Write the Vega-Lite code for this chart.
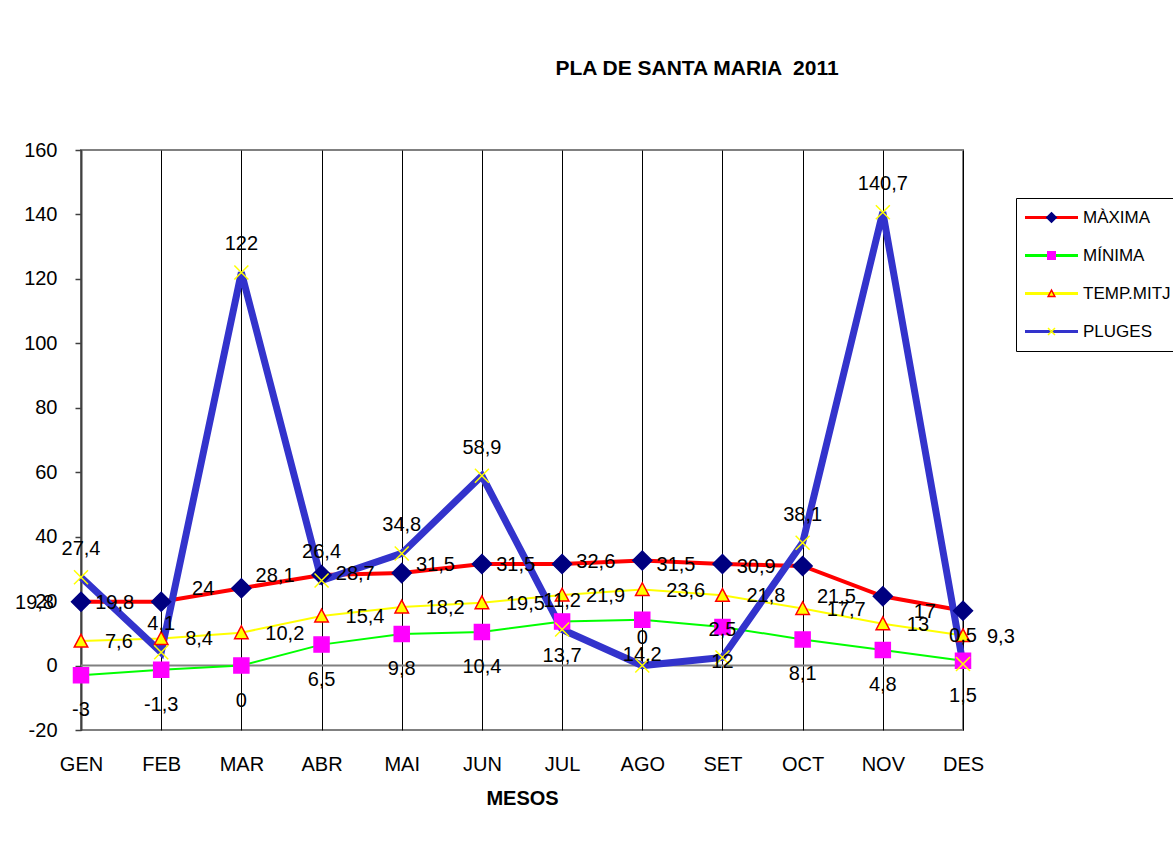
{
  "$schema": "https://vega.github.io/schema/vega-lite/v6.json",
  "width": 882,
  "height": 580,
  "autosize": {"type": "none"},
  "padding": {"left": 81, "top": 150, "right": 210, "bottom": 117},
  "background": "white",
  "title": {"text": "PLA DE SANTA MARIA \u00a02011", "fontSize": 21, "fontWeight": "bold", "font": "Liberation Sans", "color": "#000000", "anchor": "middle", "dx": 175, "offset": 61, "frame": "group"},
  "data": {"values": [
    {"mes": "GEN", "serie": "MÀXIMA", "valor": 19.8},
    {"mes": "FEB", "serie": "MÀXIMA", "valor": 19.8},
    {"mes": "MAR", "serie": "MÀXIMA", "valor": 24},
    {"mes": "ABR", "serie": "MÀXIMA", "valor": 28.1},
    {"mes": "MAI", "serie": "MÀXIMA", "valor": 28.7},
    {"mes": "JUN", "serie": "MÀXIMA", "valor": 31.5},
    {"mes": "JUL", "serie": "MÀXIMA", "valor": 31.5},
    {"mes": "AGO", "serie": "MÀXIMA", "valor": 32.6},
    {"mes": "SET", "serie": "MÀXIMA", "valor": 31.5},
    {"mes": "OCT", "serie": "MÀXIMA", "valor": 30.9},
    {"mes": "NOV", "serie": "MÀXIMA", "valor": 21.5},
    {"mes": "DES", "serie": "MÀXIMA", "valor": 17},
    {"mes": "GEN", "serie": "MÍNIMA", "valor": -3},
    {"mes": "FEB", "serie": "MÍNIMA", "valor": -1.3},
    {"mes": "MAR", "serie": "MÍNIMA", "valor": 0},
    {"mes": "ABR", "serie": "MÍNIMA", "valor": 6.5},
    {"mes": "MAI", "serie": "MÍNIMA", "valor": 9.8},
    {"mes": "JUN", "serie": "MÍNIMA", "valor": 10.4},
    {"mes": "JUL", "serie": "MÍNIMA", "valor": 13.7},
    {"mes": "AGO", "serie": "MÍNIMA", "valor": 14.2},
    {"mes": "SET", "serie": "MÍNIMA", "valor": 12},
    {"mes": "OCT", "serie": "MÍNIMA", "valor": 8.1},
    {"mes": "NOV", "serie": "MÍNIMA", "valor": 4.8},
    {"mes": "DES", "serie": "MÍNIMA", "valor": 1.5},
    {"mes": "GEN", "serie": "TEMP.MITJ", "valor": 7.6},
    {"mes": "FEB", "serie": "TEMP.MITJ", "valor": 8.4},
    {"mes": "MAR", "serie": "TEMP.MITJ", "valor": 10.2},
    {"mes": "ABR", "serie": "TEMP.MITJ", "valor": 15.4},
    {"mes": "MAI", "serie": "TEMP.MITJ", "valor": 18.2},
    {"mes": "JUN", "serie": "TEMP.MITJ", "valor": 19.5},
    {"mes": "JUL", "serie": "TEMP.MITJ", "valor": 21.9},
    {"mes": "AGO", "serie": "TEMP.MITJ", "valor": 23.6},
    {"mes": "SET", "serie": "TEMP.MITJ", "valor": 21.8},
    {"mes": "OCT", "serie": "TEMP.MITJ", "valor": 17.7},
    {"mes": "NOV", "serie": "TEMP.MITJ", "valor": 13},
    {"mes": "DES", "serie": "TEMP.MITJ", "valor": 9.3},
    {"mes": "GEN", "serie": "PLUGES", "valor": 27.4},
    {"mes": "FEB", "serie": "PLUGES", "valor": 4.1},
    {"mes": "MAR", "serie": "PLUGES", "valor": 122},
    {"mes": "ABR", "serie": "PLUGES", "valor": 26.4},
    {"mes": "MAI", "serie": "PLUGES", "valor": 34.8},
    {"mes": "JUN", "serie": "PLUGES", "valor": 58.9},
    {"mes": "JUL", "serie": "PLUGES", "valor": 11.2},
    {"mes": "AGO", "serie": "PLUGES", "valor": 0},
    {"mes": "SET", "serie": "PLUGES", "valor": 2.5},
    {"mes": "OCT", "serie": "PLUGES", "valor": 38.1},
    {"mes": "NOV", "serie": "PLUGES", "valor": 140.7},
    {"mes": "DES", "serie": "PLUGES", "valor": 0.5}
  ]},
  "layer": [
    {
      "data": {"values": [{}]},
      "mark": {"type": "rule", "color": "#808080", "strokeWidth": 2},
      "encoding": {
        "y": {"datum": 0, "type": "quantitative", "scale": {"domain": [-20, 160], "nice": false, "zero": false}, "axis": {"values": [-20, 0, 20, 40, 60, 80, 100, 120, 140, 160]}, "title": null}
      }
    },
    {
      "encoding": {
        "x": {"field": "mes", "type": "ordinal", "sort": ["GEN","FEB","MAR","ABR","MAI","JUN","JUL","AGO","SET","OCT","NOV","DES"], "scale": {"type": "point", "padding": 0}, "title": "MESOS"},
        "y": {"field": "valor", "type": "quantitative", "scale": {"domain": [-20, 160], "nice": false, "zero": false}, "axis": {"values": [-20, 0, 20, 40, 60, 80, 100, 120, 140, 160]}, "title": null},
        "stroke": {"field": "serie", "type": "nominal",
          "scale": {"domain": ["MÀXIMA", "MÍNIMA", "TEMP.MITJ", "PLUGES"], "range": ["#FF0000", "#00FF00", "#FFFF00", "#3333CC"]},
          "legend": {"orient": "none", "legendX": 935, "legendY": 48, "title": null, "symbolType": "M-5,0H5", "symbolSize": 112.36, "symbolStrokeWidth": 3, "symbolOffset": 16, "labelOffset": 23, "labelFontSize": 17, "labelColor": "#000000", "labelFont": "Liberation Sans", "padding": 11, "rowPadding": 20, "strokeColor": "#000000"}}
      },
      "layer": [
        {"transform": [{"filter": {"field": "serie", "equal": "MÀXIMA"}}], "mark": {"type": "line", "strokeWidth": 4}, "encoding": {}},
        {"transform": [{"filter": {"field": "serie", "equal": "MÍNIMA"}}], "mark": {"type": "line", "strokeWidth": 2}, "encoding": {}},
        {"transform": [{"filter": {"field": "serie", "equal": "TEMP.MITJ"}}], "mark": {"type": "line", "strokeWidth": 2}, "encoding": {}},
        {"transform": [{"filter": {"field": "serie", "equal": "PLUGES"}}], "mark": {"type": "line", "strokeWidth": 7}, "encoding": {}}
      ]
    },
    {
      "mark": {"type": "point", "size": 100, "opacity": 1, "strokeWidth": 1.5},
      "encoding": {
        "x": {"field": "mes", "type": "ordinal", "sort": ["GEN","FEB","MAR","ABR","MAI","JUN","JUL","AGO","SET","OCT","NOV","DES"], "scale": {"type": "point", "padding": 0}, "title": "MESOS"},
        "y": {"field": "valor", "type": "quantitative", "scale": {"domain": [-20, 160], "nice": false, "zero": false}, "axis": {"values": [-20, 0, 20, 40, 60, 80, 100, 120, 140, 160]}, "title": null},
        "shape": {"field": "serie", "type": "nominal",
          "scale": {"domain": ["MÀXIMA", "MÍNIMA", "TEMP.MITJ", "PLUGES"], "range": ["M0,-1.9L1.9,0L0,1.9L-1.9,0Z", "M-1.5,-1.5H1.5V1.5H-1.5Z", "M0,-1.35L1.35,1.2L-1.35,1.2Z", "M-1.4,-1.4L1.4,1.4M-1.4,1.4L1.4,-1.4"]},
          "legend": {"orient": "none", "legendX": 935, "legendY": 48, "title": null, "symbolSize": 25, "symbolStrokeWidth": 1.5, "symbolOffset": 16, "labelOffset": 23, "labelFontSize": 17, "labelOpacity": 0, "padding": 11, "rowPadding": 20}},
        "fill": {"field": "serie", "type": "nominal",
          "scale": {"domain": ["MÀXIMA", "MÍNIMA", "TEMP.MITJ", "PLUGES"], "range": ["#000080", "#FF00FF", "#FFFF00", "transparent"]},
          "legend": {"orient": "none", "legendX": 935, "legendY": 48, "title": null, "symbolSize": 25, "symbolStrokeWidth": 1.5, "symbolOffset": 16, "labelOffset": 23, "labelFontSize": 17, "labelOpacity": 0, "padding": 11, "rowPadding": 20}},
        "stroke": {"field": "serie", "type": "nominal",
          "scale": {"domain": ["MÀXIMA", "MÍNIMA", "TEMP.MITJ", "PLUGES"], "range": ["#000080", "#FF00FF", "#FF0000", "#FFFF00"]},
          "legend": {"orient": "none", "legendX": 935, "legendY": 48, "title": null, "symbolSize": 25, "symbolStrokeWidth": 1.5, "symbolOffset": 16, "labelOffset": 23, "labelFontSize": 17, "labelOpacity": 0, "padding": 11, "rowPadding": 20}}
      }
    },
    {
      "transform": [{"filter": {"field": "serie", "equal": "MÀXIMA"}}],
      "mark": {"type": "text", "align": "right", "baseline": "middle", "dx": -27, "dy": 1, "fontSize": 20, "color": "#000000"},
      "encoding": {
        "x": {"field": "mes", "type": "ordinal", "sort": ["GEN","FEB","MAR","ABR","MAI","JUN","JUL","AGO","SET","OCT","NOV","DES"], "scale": {"type": "point", "padding": 0}, "title": "MESOS"},
        "y": {"field": "valor", "type": "quantitative", "scale": {"domain": [-20, 160], "nice": false, "zero": false}, "axis": {"values": [-20, 0, 20, 40, 60, 80, 100, 120, 140, 160]}, "title": null},
        "text": {"field": "valor", "type": "quantitative", "format": "~g"}
      }
    },
    {
      "transform": [{"filter": {"field": "serie", "equal": "MÍNIMA"}}],
      "mark": {"type": "text", "align": "center", "baseline": "middle", "dy": 35, "fontSize": 20, "color": "#000000"},
      "encoding": {
        "x": {"field": "mes", "type": "ordinal", "sort": ["GEN","FEB","MAR","ABR","MAI","JUN","JUL","AGO","SET","OCT","NOV","DES"], "scale": {"type": "point", "padding": 0}, "title": "MESOS"},
        "y": {"field": "valor", "type": "quantitative", "scale": {"domain": [-20, 160], "nice": false, "zero": false}, "axis": {"values": [-20, 0, 20, 40, 60, 80, 100, 120, 140, 160]}, "title": null},
        "text": {"field": "valor", "type": "quantitative", "format": "~g"}
      }
    },
    {
      "transform": [{"filter": {"field": "serie", "equal": "TEMP.MITJ"}}],
      "mark": {"type": "text", "align": "left", "baseline": "middle", "dx": 24, "dy": 1, "fontSize": 20, "color": "#000000"},
      "encoding": {
        "x": {"field": "mes", "type": "ordinal", "sort": ["GEN","FEB","MAR","ABR","MAI","JUN","JUL","AGO","SET","OCT","NOV","DES"], "scale": {"type": "point", "padding": 0}, "title": "MESOS"},
        "y": {"field": "valor", "type": "quantitative", "scale": {"domain": [-20, 160], "nice": false, "zero": false}, "axis": {"values": [-20, 0, 20, 40, 60, 80, 100, 120, 140, 160]}, "title": null},
        "text": {"field": "valor", "type": "quantitative", "format": "~g"}
      }
    },
    {
      "transform": [{"filter": {"field": "serie", "equal": "PLUGES"}}],
      "mark": {"type": "text", "align": "center", "baseline": "middle", "dy": -28, "fontSize": 20, "color": "#000000"},
      "encoding": {
        "x": {"field": "mes", "type": "ordinal", "sort": ["GEN","FEB","MAR","ABR","MAI","JUN","JUL","AGO","SET","OCT","NOV","DES"], "scale": {"type": "point", "padding": 0}, "title": "MESOS"},
        "y": {"field": "valor", "type": "quantitative", "scale": {"domain": [-20, 160], "nice": false, "zero": false}, "axis": {"values": [-20, 0, 20, 40, 60, 80, 100, 120, 140, 160]}, "title": null},
        "text": {"field": "valor", "type": "quantitative", "format": "~g"}
      }
    }
  ],
  "resolve": {
    "scale": {"stroke": "independent", "fill": "independent", "shape": "independent"},
    "legend": {"stroke": "independent", "fill": "independent", "shape": "independent"}
  },
  "config": {
    "font": "Liberation Sans",
    "view": {"stroke": "#808080", "strokeWidth": 2},
    "locale": {"number": {"decimal": ",", "thousands": ".", "grouping": [3], "currency": ["", " €"], "minus": "-"}},
    "axisX": {"grid": true, "gridColor": "#000000", "gridWidth": 1, "gridOpacity": 1, "domain": false, "ticks": false, "tickSize": 0, "labelFontSize": 20, "labelColor": "#000000", "labelPadding": 24, "labelAngle": 0, "titleFontSize": 20, "titleFontWeight": "bold", "titleColor": "#000000", "titlePadding": 14},
    "axisY": {"grid": false, "domainColor": "#404040", "domainWidth": 2, "tickColor": "#404040", "tickWidth": 1.5, "tickSize": 6, "labelFontSize": 20, "labelColor": "#000000", "labelPadding": 18}
  }
}
